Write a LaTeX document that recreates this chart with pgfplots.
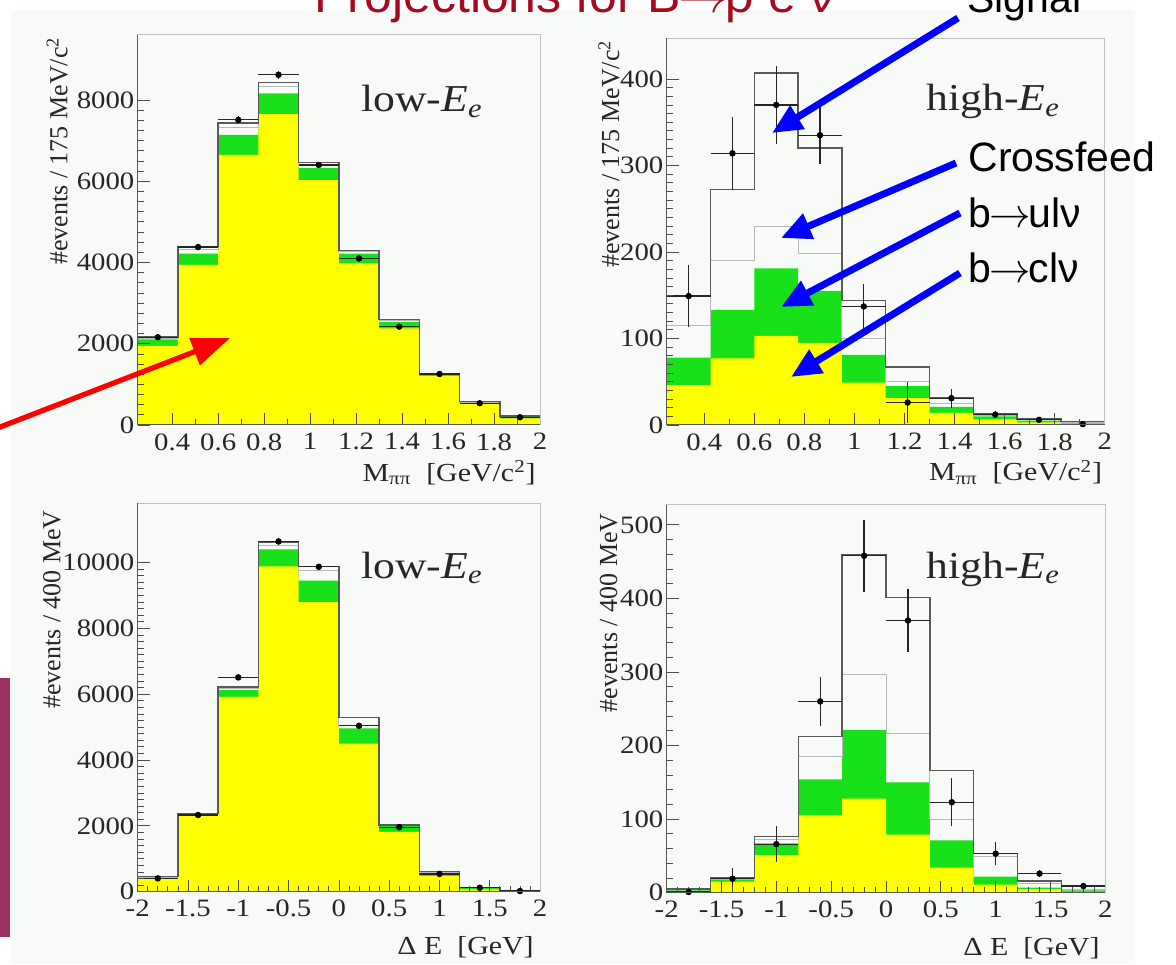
\documentclass[border=0pt]{standalone}
\usepackage{fontspec}
\setmainfont{Liberation Serif}[FakeStretch=1.15]
\newfontfamily\plainserif{Liberation Serif}
\newfontfamily\slidesans{Liberation Sans}
\usepackage{pgfplots}
\pgfplotsset{compat=1.18}
\usepackage{pgfplotstable}
\usetikzlibrary{arrows.meta}

\definecolor{rootyellow}{RGB}{255,255,0}
\definecolor{rootgreen}{RGB}{25,225,25}
\definecolor{slidered}{RGB}{165,10,30}
\definecolor{canvas}{RGB}{247,250,247}
\definecolor{slidemaroon}{RGB}{155,50,98}

\newcommand{\arr}{\kern-0.05em$\rightarrow$\kern-0.05em}

\pgfplotstableread{
x yel grn cf sig
0.25 1950 2110 2140 2170
0.425 3940 4220 4330 4390
0.6 6650 7140 7330 7430
0.775 7650 8160 8340 8430
0.95 6030 6320 6400 6460
1.125 3980 4220 4260 4290
1.3 2380 2540 2570 2590
1.475 1210 1255 1265 1275
1.65 520 550 565 575
1.825 165 195 205 220
2.0 165 195 205 220
}\histTL
\pgfplotstableread{
x d ex ey
0.3375 2160 0.0875 46
0.5125 4380 0.0875 66
0.6875 7510 0.0875 87
0.8625 8620 0.0875 93
1.0375 6400 0.0875 80
1.2125 4100 0.0875 64
1.3875 2420 0.0875 49
1.5625 1255 0.0875 35
1.7375 535 0.0875 23
1.9125 190 0.0875 14
}\dataTL

\pgfplotstableread{
x yel grn cf sig
0.25 46 78 115 150
0.425 77 133 190 272
0.6 103 181 229 407
0.775 95 155 198 320
0.95 49 81 100 144
1.125 31 45 50 67
1.3 14 21 25 31
1.475 6.5 10 11 12.5
1.65 3 5 6 7
1.825 1.5 2.5 3 4
2.0 1.5 2.5 3 4
}\histTR
\pgfplotstableread{
x d ex ey
0.3375 149 0.0875 36
0.5125 314 0.0875 42
0.6875 370 0.0875 45
0.8625 335 0.0875 33
1.0375 137 0.0875 26
1.2125 26 0.0875 24
1.3875 31 0.0875 11
1.5625 12 0.0875 4
1.7375 6 0.0875 3
1.9125 1 0.0875 1
}\dataTR

\pgfplotstableread{
x yel grn cf sig
-2.0 400 430 440 455
-1.6 2320 2350 2370 2380
-1.2 5920 6130 6180 6220
-0.8 9880 10400 10530 10610
-0.4 8800 9450 9750 9880
0.0 4500 4960 5060 5290
0.4 1820 1990 2010 2030
0.8 480 575 590 610
1.2 70 110 120 135
1.6 15 22 26 30
2.0 15 22 26 30
}\histBL
\pgfplotstableread{
x d ex ey
-1.8 405 0.2 20
-1.4 2330 0.2 48
-1.0 6510 0.2 81
-0.6 10640 0.2 103
-0.2 9870 0.2 99
0.2 5040 0.2 71
0.6 1960 0.2 44
1.0 540 0.2 23
1.4 120 0.2 11
1.8 20 0.2 5
}\dataBL

\pgfplotstableread{
x yel grn cf sig
-2.0 2 3 4 5
-1.6 15 18 19 20
-1.2 51 67 72 76
-0.8 105 154 185 212
-0.4 128 221 296 460
0.0 79 150 216 401
0.4 34 71 100 166
0.8 11 22 49 53
1.2 5 7 12 16
1.6 1 3 5 9
2.0 1 3 5 9
}\histBR
\pgfplotstableread{
x d ex ey
-1.8 1 0.2 2
-1.4 19 0.2 15
-1.0 66 0.2 24
-0.6 260 0.2 33
-0.2 458 0.2 49
0.2 370 0.2 43
0.6 123 0.2 33
1.0 53 0.2 16
1.4 26 0.2 5
1.8 9 0.2 3
}\dataBR

\newcommand{\drawstack}[1]{%
  \addplot[fill=rootgreen, draw=none, const plot mark left] table[x=x,y=grn]{#1} \closedcycle;
  \addplot[fill=rootyellow, draw=none, const plot mark left] table[x=x,y=yel]{#1} \closedcycle;
  \addplot[draw=black!28, line width=0.5pt, const plot mark left] table[x=x,y=cf]{#1};
  \addplot[draw=black!65, line width=0.7pt, const plot mark left] table[x=x,y=sig]{#1};
}
\newcommand{\drawdata}[1]{%
  \addplot[only marks, mark=*, mark size=1.4pt, mark options={fill=black,draw=black},
    error bars/.cd, x dir=both, x explicit, y dir=both, y explicit, error mark=none,
    error bar style={line width=0.6pt, black!85}]
    table[x=x, y=d, x error=ex, y error=ey]{#1};
}

\pgfplotsset{
  rootpanel/.style={
    scale only axis, axis on top, anchor=south west,
    tick pos=left, tick align=inside,
    major tick length=6pt, minor tick length=3pt,
    tick style={black!70, line width=0.4pt},
    axis line style={black!25, line width=0.5pt},
    tick label style={font=\fontsize{12.5}{14}\selectfont, text=black!85},
    /pgf/number format/assume math mode=true,
    /pgf/number format/1000 sep={},
    scaled ticks=false,
    yticklabel style={inner sep=1.5pt},
    xticklabel style={inner sep=0pt, yshift=-4pt},
    xlabel style={font=\fontsize{13}{15}\selectfont, inner sep=0pt, anchor=north east, text=black!85},
    ylabel style={font=\plainserif\fontsize{13}{15}\selectfont, inner sep=0pt, anchor=south east, text=black!85},
    after end axis/.code={\draw[black!65, line width=0.5pt] (rel axis cs:0,1) -- (rel axis cs:0,0) -- (rel axis cs:1,0);},
  },
  mpanel/.style={
    xmin=0.25, xmax=2, xtick={0.4,0.6,0.8,1,1.2,1.4,1.6,1.8,2}, minor x tick num=1,
    xlabel={M\textsubscript{ππ}\ \ [GeV/c\textsuperscript{2}]},
    ylabel={\#events / 175 MeV/c\textsuperscript{2}},
  },
  epanel/.style={
    xmin=-2, xmax=2, xtick={-2,-1.5,-1,-0.5,0,0.5,1,1.5,2}, minor x tick num=4,
    xlabel={Δ E\ \ [GeV]},
    ylabel={\#events / 400 MeV},
  },
}

\begin{document}
\begin{tikzpicture}
\useasboundingbox (0,0) rectangle (588pt,482pt);
\fill[white] (0,0) rectangle (588pt,482pt);
\fill[canvas] (5.5pt,0pt) rectangle (567.5pt,477pt);
\fill[slidemaroon] (0pt,13.5pt) rectangle (5pt,143pt);

% top left
\begin{axis}[rootpanel, mpanel, at={(68.85pt,269.5pt)}, width=201.2pt, height=195pt,
  ymin=0, ymax=9600, ytick={0,2000,4000,6000,8000}, minor y tick num=7,
  xlabel style={at={(axis description cs:0.99,-0.09)}},
  ylabel style={at={(axis description cs:-0.173,0.995)}}]
  \drawstack{\histTL}
  \drawdata{\dataTL}
\end{axis}

% top right
\begin{axis}[rootpanel, mpanel, at={(333.35pt,269.5pt)}, width=219pt, height=193.35pt,
  ymin=0, ymax=447, ytick={0,100,200,300,400}, minor y tick num=9,
  xlabel style={at={(axis description cs:0.995,-0.09)}},
  ylabel style={at={(axis description cs:-0.107,0.996)}}]
  \drawstack{\histTR}
  \drawdata{\dataTR}
\end{axis}

% bottom left
\begin{axis}[rootpanel, epanel, at={(68.85pt,36.15pt)}, width=201.2pt, height=194.2pt,
  ymin=0, ymax=11800, ytick={0,2000,4000,6000,8000,10000}, minor y tick num=9,
  xlabel style={at={(axis description cs:0.985,-0.115)}},
  ylabel style={at={(axis description cs:-0.19,0.983)}}]
  \drawstack{\histBL}
  \drawdata{\dataBL}
\end{axis}

% bottom right
\begin{axis}[rootpanel, epanel, at={(333.35pt,35.65pt)}, width=219.3pt, height=193.85pt,
  ymin=0, ymax=527, ytick={0,100,200,300,400,500}, minor y tick num=4,
  xlabel style={at={(axis description cs:0.988,-0.115)}},
  ylabel style={at={(axis description cs:-0.111,0.979)}}]
  \drawstack{\histBR}
  \drawdata{\dataBR}
\end{axis}

\begin{scope}[shift={(0pt,482pt)}, x=0.5pt, y=-0.5pt]
  \clip (0,0) rectangle (1176,964);
  \node[anchor=base west, inner sep=0, font=\fontsize{19}{22}\selectfont, text=black!85] at (361,112) {low-\textit{E}\textsubscript{\textit{e}}};
  \node[anchor=base west, inner sep=0, font=\fontsize{19}{22}\selectfont, text=black!85] at (926,111) {high-\textit{E}\textsubscript{\textit{e}}};
  \node[anchor=base west, inner sep=0, font=\fontsize{19}{22}\selectfont, text=black!85] at (361,578) {low-\textit{E}\textsubscript{\textit{e}}};
  \node[anchor=base west, inner sep=0, font=\fontsize{19}{22}\selectfont, text=black!85] at (926,578) {high-\textit{E}\textsubscript{\textit{e}}};

  \node[anchor=base west, inner sep=0, text=slidered, font=\slidesans\fontsize{25}{30}\selectfont] at (314,13) {Projections for B\arr ρ e ν};

  \node[anchor=base west, inner sep=0, font=\slidesans\fontsize{20.5}{24}\selectfont] at (967,13) {Signal};
  \node[anchor=base west, inner sep=0, font=\slidesans\fontsize{20.5}{24}\selectfont] at (968,172) {Crossfeed};
  \node[anchor=base west, inner sep=0, font=\slidesans\fontsize{20.5}{24}\selectfont] at (968,228) {b\arr ulν};
  \node[anchor=base west, inner sep=0, font=\slidesans\fontsize{20.5}{24}\selectfont] at (968,283) {b\arr clν};

  \draw[blue, line width=3.5pt, -{Triangle[length=15pt,width=13pt]}] (958,18) -- (772,133);
  \draw[blue, line width=3.5pt, -{Triangle[length=15pt,width=13pt]}] (956,163) -- (781,238);
  \draw[blue, line width=3.5pt, -{Triangle[length=15pt,width=13pt]}] (960,213) -- (781,307);
  \draw[blue, line width=3.5pt, -{Triangle[length=15pt,width=13pt]}] (960,273) -- (791,377);

  \draw[red, line width=2.6pt, -{Triangle[length=19pt,width=14pt]}] (-5,429) -- (230,338);
\end{scope}
\end{tikzpicture}
\end{document}
